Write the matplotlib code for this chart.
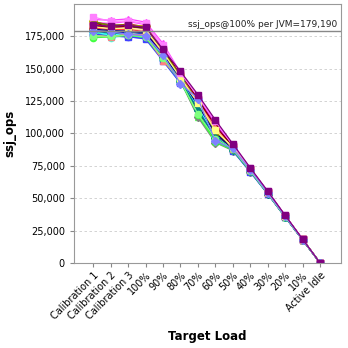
import numpy as np
import matplotlib
matplotlib.use("Agg")
import matplotlib.pyplot as plt
from matplotlib.ticker import FuncFormatter

categories = ["Calibration 1", "Calibration 2", "Calibration 3", "100%", "90%", "80%",
              "70%", "60%", "50%", "40%", "30%", "20%", "10%", "Active Idle"]

# ssj_ops per JVM at each target load
jvm_ops = [
    [184500, 182000, 183000, 181500, 160000, 142000, 121000, 101000, 88500, 71500, 54000, 36000, 18000, 0],
    [176000, 175500, 174500, 173500, 157000, 140000, 120000, 96000, 87000, 70500, 53500, 35500, 17800, 0],
    [175000, 176000, 176500, 175000, 158000, 141000, 113000, 95000, 87500, 71000, 53800, 35700, 17900, 0],
    [180000, 179000, 178500, 177500, 161000, 143000, 122000, 99000, 88000, 71800, 54200, 36100, 18000, 0],
    [186000, 185000, 186500, 184000, 166000, 146000, 126000, 106000, 90000, 72500, 54800, 36400, 18200, 0],
    [177500, 174000, 176000, 174500, 157500, 139500, 119000, 97000, 87200, 70800, 53600, 35600, 17850, 0],
    [182000, 180500, 181000, 179500, 162000, 143500, 123000, 103000, 89000, 72000, 54300, 36200, 18100, 0],
    [181000, 178000, 179500, 177000, 159000, 140500, 112500, 93000, 86800, 70600, 53500, 35400, 17700, 0],
    [185000, 183000, 184500, 182500, 163000, 145000, 125000, 105000, 89500, 72300, 54600, 36300, 18150, 0],
    [179500, 177500, 178000, 176500, 160500, 142500, 121500, 100000, 88200, 71600, 54000, 35900, 17950, 0],
    [178000, 176500, 177000, 175500, 158500, 141500, 116000, 94000, 87400, 71100, 53900, 35800, 17900, 0],
    [187000, 182500, 183500, 183000, 164000, 145500, 124000, 102000, 89200, 72100, 54400, 36250, 18120, 0],
    [183500, 181500, 182500, 180500, 163500, 144500, 127000, 107000, 90500, 72800, 55000, 36500, 18250, 0],
    [176500, 177000, 175500, 174000, 156500, 139000, 118000, 96500, 86900, 70700, 53400, 35500, 17800, 0],
    [185500, 184000, 183000, 181000, 162500, 144000, 117000, 98000, 88700, 71900, 54100, 36050, 18050, 0],
    [181500, 180000, 180500, 178500, 161500, 143800, 122500, 104000, 88900, 71700, 54250, 36150, 18080, 0],
    [177000, 175000, 174800, 173000, 156000, 138800, 119500, 95500, 86500, 70200, 53200, 35300, 17700, 0],
    [174000, 174500, 175800, 174200, 157200, 140200, 114500, 93500, 87100, 70900, 53700, 35650, 17870, 0],
    [188000, 187500, 188500, 186000, 169500, 147000, 128000, 109000, 91500, 73200, 55200, 36600, 18300, 0],
    [178500, 176000, 177500, 176000, 159500, 141000, 120500, 97500, 87600, 71300, 53800, 35750, 17920, 0],
    [183000, 182000, 182800, 181800, 164500, 146500, 126500, 105500, 90200, 72600, 54900, 36450, 18220, 0],
    [180500, 179500, 179000, 178000, 160800, 142800, 121800, 100500, 88400, 71400, 54050, 35950, 17980, 0],
    [186500, 183500, 184000, 182000, 163200, 144800, 123500, 101500, 89800, 72400, 54700, 36350, 18180, 0],
    [179000, 177800, 176800, 175200, 158800, 140800, 118500, 96800, 87300, 70950, 53650, 35620, 17860, 0],
    [176000, 174500, 177000, 176000, 156000, 142000, 124000, 104500, 88000, 71800, 54000, 35900, 17950, 0],
    [175500, 175000, 176000, 174800, 158200, 140500, 115000, 96000, 87800, 71200, 53700, 35700, 17880, 0],
    [182500, 181000, 181500, 180000, 162800, 143200, 123800, 102500, 89400, 72200, 54500, 36300, 18160, 0],
    [190000, 186500, 187000, 185000, 168000, 146800, 128500, 109500, 91000, 73000, 55300, 36700, 18350, 0],
    [179500, 178500, 176500, 175500, 161000, 138500, 127000, 94000, 88500, 72000, 54200, 35950, 17900, 0],
    [183500, 183000, 183500, 182000, 165000, 148000, 130000, 110500, 92000, 73500, 55500, 36800, 18400, 0],
]

colors = ["#FF5555", "#5555FF", "#55FF55", "#FFFF55", "#FF55FF", "#55FFFF", "#FFAFAF", "#808080",
          "#C00000", "#0000C0", "#00C000", "#C0C000", "#C000C0", "#00C0C0", "#404040", "#FF4040",
          "#4040FF", "#40FF40", "#FF40FF", "#40FFFF", "#800000", "#000080", "#808000", "#008080",
          "#FF8080", "#80FF80", "#FFFF80", "#FF80FF", "#8080FF", "#800080"]
markers = ["s", "o", "^", "D", "s", "o", "^", "D", "s", "o", "^", "D", "s", "o", "^", "D",
           "s", "o", "^", "D", "s", "o", "^", "D", "^", "o", "s", "s", "D", "s"]

ref_value = 179190

fig = plt.figure(figsize=(3.48, 3.48), dpi=100)
ax = fig.add_axes([0.2126, 0.2443, 0.7674, 0.7442])

x = np.arange(len(categories))
for vals, c, m in zip(jvm_ops, colors, markers):
    ax.plot(x, vals, color=c, marker=m, markersize=4.5, linewidth=0.9,
            markeredgecolor=c)

ax.axhline(ref_value, color="#888888", linewidth=1.0, zorder=50)
ax.text(13.97, ref_value + 1500,
        "ssj_ops@100%% per JVM=%s" % format(ref_value, ","),
        ha="right", va="bottom", fontsize=6.5, color="#222222", zorder=60)

ax.set_xlim(-1.1, len(categories) - 1 + 1.2)
ax.set_ylim(0, 200000)
ax.set_yticks(np.arange(0, 200000, 25000))
ax.yaxis.set_major_formatter(FuncFormatter(lambda v, p: format(int(v), ",")))
ax.set_xticks(x)
ax.set_xticklabels(categories, rotation=45, ha="right", rotation_mode="anchor")
ax.tick_params(axis="both", labelsize=7, color="#888888", length=3)
ax.tick_params(axis="x", pad=2)

ax.grid(axis="y", color="#cccccc", linestyle=(0, (3, 3)), linewidth=0.6)
ax.set_axisbelow(True)
for s in ax.spines.values():
    s.set_color("#999999")

ax.set_xlabel("Target Load", fontsize=8.5, fontweight="bold", labelpad=6)
ax.set_ylabel("ssj_ops", fontsize=8.5, fontweight="bold", labelpad=6)

fig.savefig("out.png", dpi=100)
